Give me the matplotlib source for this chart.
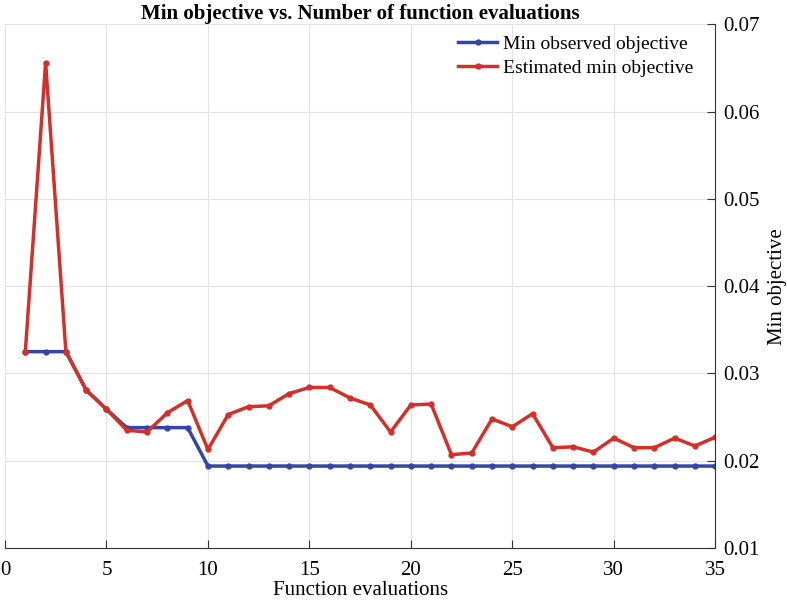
import matplotlib.pyplot as plt
import numpy as np

plt.rcParams['font.family'] = ['Liberation Serif', 'DejaVu Serif']

# Data
evals = list(range(1, 36))
min_observed = [0.0325, 0.0325, 0.0325, 0.0281, 0.0259,
                0.0238, 0.0238, 0.0238, 0.0238] + [0.0194] * 26
est_min = [0.0325, 0.0656, 0.0325, 0.0281, 0.0259, 0.0235, 0.0233, 0.0255,
           0.0269, 0.0213, 0.0253, 0.0262, 0.0263, 0.0277, 0.0284, 0.0284,
           0.0272, 0.0264, 0.0233, 0.0264, 0.0265, 0.0207, 0.0209, 0.0248,
           0.0239, 0.0254, 0.0215, 0.0216, 0.0210, 0.0226, 0.0215, 0.0215,
           0.0226, 0.0217, 0.0227]

blue = '#3545a6'
red = '#d3302a'

fig = plt.figure(figsize=(7.87, 6.05), dpi=100)
ax = fig.add_axes([0.0064, 0.094, 0.9024, 0.866])

ax.plot(evals, min_observed, color=blue, lw=2.5, marker='o', ms=3.5,
        label='Min observed objective')
ax.plot(evals, est_min, color=red, lw=2.5, marker='o', ms=3.5,
        label='Estimated min objective')

ax.set_xlim(0, 35)
ax.set_ylim(0.01, 0.07)
ax.set_xticks(range(0, 36, 5))
ax.set_yticks(np.arange(0.01, 0.0701, 0.01))
ax.set_yticklabels(['0.01', '0.02', '0.03', '0.04', '0.05', '0.06', '0.07'])

ax.yaxis.tick_right()
ax.yaxis.set_label_position('right')
ax.spines['left'].set_visible(False)
ax.spines['top'].set_visible(False)
ax.spines['right'].set_color('#333333')
ax.spines['bottom'].set_color('#333333')
ax.tick_params(direction='in', labelsize=15, length=6, color='#333333')
ax.tick_params(axis='x', pad=9)
ax.tick_params(axis='y', pad=6)
ax.grid(True, color='#e2e2e2', lw=0.8)
ax.set_axisbelow(True)

ax.set_xlabel('Function evaluations', fontsize=15, labelpad=1)
ax.set_ylabel('Min objective', fontsize=15, labelpad=6)
ax.set_title('Min objective vs. Number of function evaluations',
             fontsize=15, fontweight='bold', pad=4)
ax.legend(loc='upper right', bbox_to_anchor=(0.983, 0.997), frameon=False,
          fontsize=14, handlelength=2.0, handletextpad=0.3,
          borderaxespad=0.1, labelspacing=0.3)

plt.savefig('out.png', dpi=100)
